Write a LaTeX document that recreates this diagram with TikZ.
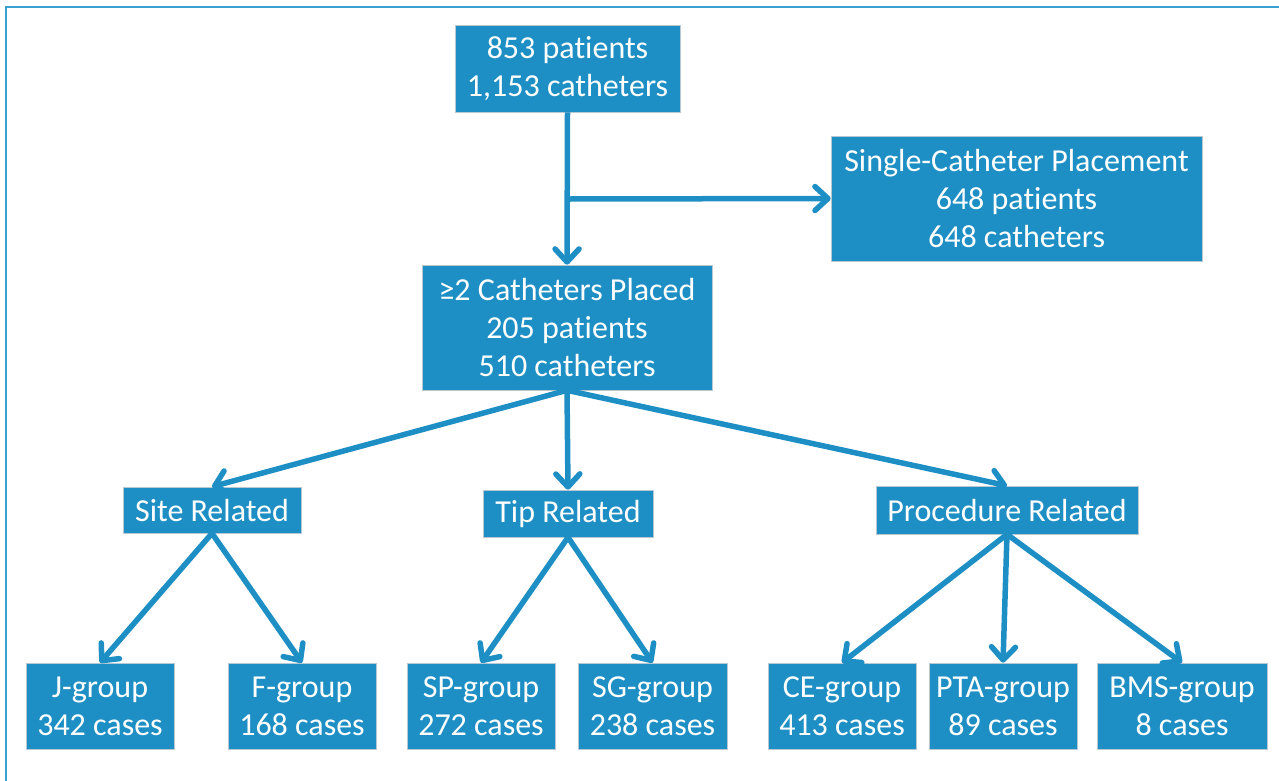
\documentclass[tikz,border=0pt]{standalone}
\usepackage{fontspec}
\setmainfont{Carlito}[Ligatures=NoCommon]
\usetikzlibrary{arrows.meta}
\definecolor{boxblue}{HTML}{1E8FC4}
\definecolor{framecol}{HTML}{3A9FD2}
\definecolor{edgecol}{HTML}{B8C8D2}
\begin{document}
\begin{tikzpicture}[x=1pt,y=-1pt,
  box/.style={fill=boxblue, draw=edgecol, line width=0.6pt, text=white, align=center,
    inner sep=0pt, font=\fontsize{32}{38}\selectfont},
  conn/.style={draw=boxblue, line width=5.5pt,
    -{Straight Barb[length=13pt,width=24pt,line cap=round,line join=round]}}]
\useasboundingbox (0,0) rectangle (1279,780);
\draw[framecol, line width=2pt] (5.5,781) -- (5.5,7) -- (1280,7);

\node[box, minimum width=225pt, minimum height=87pt] (top) at (567.5,68.5) {853 patients\\1,153 catheters};
\node[box, minimum width=371pt, minimum height=125pt] (single) at (1016.5,198.5) {Single-Catheter Placement\\648 patients\\648 catheters};
\node[box, minimum width=290pt, minimum height=125pt] (two) at (567,327.5) {≥2 Catheters Placed\\205 patients\\510 catheters};

\node[box, minimum width=178pt, minimum height=46pt] (site) at (212,510) {Site Related};
\node[box, minimum width=170pt, minimum height=47pt] (tip) at (568,513.5) {Tip Related};
\node[box, minimum width=262pt, minimum height=48pt] (proc) at (1007,510) {Procedure Related};

\node[box, minimum width=148pt, minimum height=86pt] (jg) at (100,706) {J-group\\342 cases};
\node[box, minimum width=148pt, minimum height=86pt] (fg) at (302,706) {F-group\\168 cases};
\node[box, minimum width=148pt, minimum height=86pt] (spg) at (481,706) {SP-group\\272 cases};
\node[box, minimum width=149pt, minimum height=86pt] (sgg) at (652.5,706) {SG-group\\238 cases};
\node[box, minimum width=148pt, minimum height=86pt] (ceg) at (842,706) {CE-group\\413 cases};
\node[box, minimum width=148pt, minimum height=86pt] (ptag) at (1003,706) {PTA-group\\89 cases};
\node[box, minimum width=170pt, minimum height=86pt] (bmsg) at (1182,706) {BMS-group\\8 cases};

\coordinate (split) at (567,199);
\draw[conn] (top.south) -- (two.north);
\draw[conn] (split) -- (single.west);

\draw[conn] (two.south) -- (site.north);
\draw[conn] (two.south) -- (tip.north);
\draw[conn] (two.south) -- (proc.north);

\draw[conn] (site.south) -- (jg.north);
\draw[conn] (site.south) -- (fg.north);
\draw[conn] (tip.south) -- (spg.north);
\draw[conn] (tip.south) -- (sgg.north);
\draw[conn] (proc.south) -- (ceg.north);
\draw[conn] (proc.south) -- (ptag.north);
\draw[conn] (proc.south) -- (bmsg.north);
\end{tikzpicture}
\end{document}
